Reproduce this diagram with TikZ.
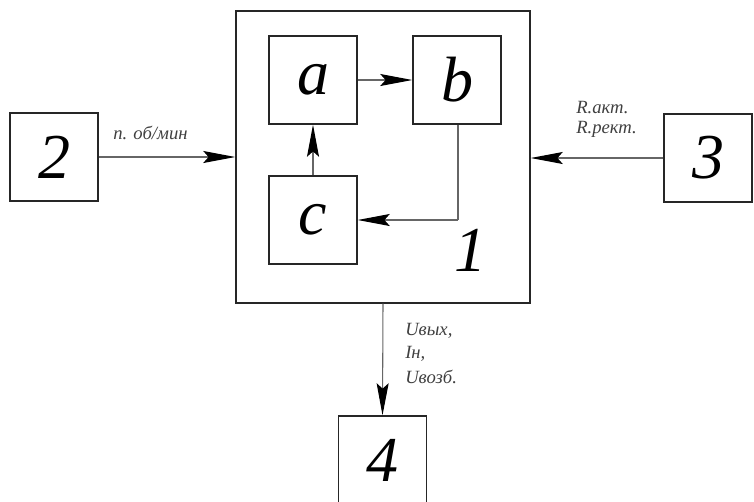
\documentclass[tikz,border=0pt]{standalone}
\usepackage{fontspec}
\setmainfont{Liberation Serif}
\usetikzlibrary{arrows.meta}
\begin{document}
\begin{tikzpicture}[x=0.75pt,y=-0.75pt,
  blk/.style={draw=black!85,line width=1.1pt,minimum width=66pt,minimum height=66pt,inner sep=0pt,
    font=\fontsize{48}{48}\selectfont\itshape},
  wire/.style={draw=black!60,line width=0.8pt},
  flow/.style={wire,-{Stealth[length=24pt,width=9pt,inset=4pt,fill=black,color=black]}},
  lbl/.style={font=\fontsize{14}{14}\selectfont\itshape,text=black!75,inner sep=0pt,anchor=west}]
\useasboundingbox (0,0) rectangle (754,501);
% outer unit
\node[draw=black!85,line width=1.1pt,minimum width=220.5pt,minimum height=219pt,inner sep=0pt] (b1) at (383,157) {};
\node[font=\fontsize{48}{48}\selectfont\itshape] (n1) at (470,250) {1};
% inner blocks
\node[blk] (a) at (313,80) {a};
\node[blk] (b) at (457,80) {b};
\node[blk] (c) at (313,220) {c};
% outer blocks
\node[blk] (b2) at (54,157) {2};
\node[blk] (b3) at (708,158) {3};
\node[blk] (b4) at (382.5,460) {4};
% internal links
\draw[flow] (a) -- (b);
\draw[flow] (c) -- (a);
\coordinate (bc) at (458,220);
\draw[wire] (b.south -| bc) -- (bc);
\draw[flow] (bc) -- (c.east);
% external links
\draw[flow] (b2.east) -- (b1.west |- b2.east);
\draw[flow] (b3.west) -- (b1.east |- b3.west);
\draw[flow] (b1.south) -- (b4.north);
% signal labels
\node[lbl] (ln) at (113,133) {n. об/мин};
\node[lbl] (lr1) at (576,108) {R.акт.};
\node[lbl] (lr2) at (576,129) {R.рект.};
\node[lbl] (lu1) at (405,331) {Uвых,};
\node[lbl] (lu2) at (405,354) {Iн,};
\node[lbl] (lu3) at (405,377) {Uвозб.};
\end{tikzpicture}
\end{document}
